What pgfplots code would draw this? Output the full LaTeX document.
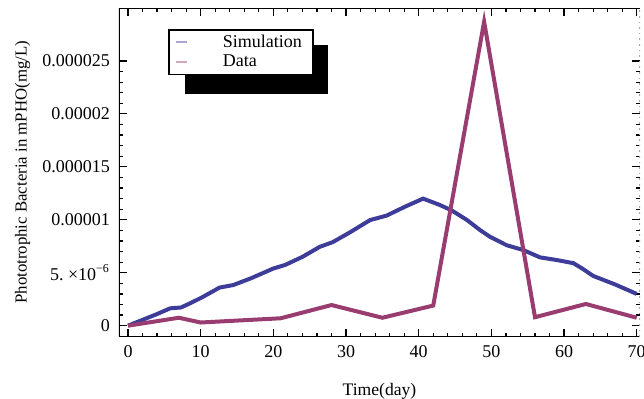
\documentclass[border=0pt]{standalone}
\usepackage{pgfplots}
\pgfplotsset{compat=1.18}
\usepackage{fontspec}
\setmainfont{Liberation Serif}
\definecolor{simblue}{rgb}{0.24,0.24,0.6}
\definecolor{datamag}{rgb}{0.6,0.24,0.442}
\newcommand{\cf}{\fontsize{8.4pt}{10pt}\selectfont}
\newcommand{\tf}{\fontsize{9pt}{10pt}\selectfont}
\pgfplotsset{myleg/.style={legend image code/.code={\draw[##1, line width=1pt, opacity=0.45] (0pt,0pt) -- (5.5pt,0pt); \path[draw=none,fill=none] (0pt,-1pt) rectangle (21pt,1pt);}}}
\begin{document}
\begin{tikzpicture}[font=\cf]
\useasboundingbox (0,0) rectangle (322pt,199pt);
\begin{axis}[
  at={(59.5pt,30.65pt)}, anchor=south west,
  scale only axis, width=260.5pt, height=164.35pt,
  xmin=-1.24, xmax=70.45, ymin=-1.04e-6, ymax=3.0e-5,
  xtick={0,10,...,70}, minor x tick num=4,
  ytick={0,5e-6,1e-5,1.5e-5,2e-5,2.5e-5}, minor y tick num=4,
  yticklabels={0,{5.\ ×10\textsuperscript{−6}},0.00001,0.000015,0.00002,0.000025},
  scaled y ticks=false,
  xtick pos=both, ytick pos=both,
  xticklabel pos=lower, yticklabel pos=left,
  tick align=inside,
  major tick length=3.8pt, minor tick length=2pt,
  every tick/.style={black, line width=0.6pt},
  axis line style={draw=none},
  /pgf/number format/assume math mode=true,
  tick label style={font=\tf},
  xticklabel style={yshift=-1pt},
  yticklabel style={xshift=-1pt},
  xlabel={Time(day)}, ylabel={Phototrophic Bacteria in mPHO(mg/L)},
  every axis x label/.style={at={(axis description cs:0.5,-0.165)}, anchor=center, font=\fontsize{8.8pt}{10pt}\selectfont},
  every axis y label/.style={at={(axis description cs:-0.185,0.5)}, anchor=center, rotate=90, font=\cf},
  legend style={at={(0.094,0.936)}, anchor=north west, draw=black, line width=0.8pt,
    fill=white, font=\tf, inner xsep=3pt, inner ysep=1.2pt,
    nodes={inner ysep=1.2pt, inner xsep=2.6pt}},
  legend cell align=left,
]
\fill[black] (axis description cs:0.1267,0.7384) rectangle (axis description cs:0.4012,0.8874);
\addplot[simblue, line width=2pt, no markers, myleg] coordinates {
(0,0) (2,0.55e-6) (4,1.1e-6) (5.8,1.64e-6) (7.3,1.72e-6) (8.5,2.1e-6)
(10.2,2.68e-6) (12.6,3.6e-6) (14.5,3.84e-6) (17,4.5e-6) (20,5.4e-6)
(21.6,5.73e-6) (24,6.5e-6) (26.4,7.45e-6) (28.2,7.9e-6) (30.5,8.8e-6)
(33.3,9.97e-6) (35.6,10.4e-6) (38,11.2e-6) (40.6,12.0e-6) (42.9,11.4e-6)
(44.5,10.9e-6) (46.6,10.0e-6) (48.5,9.0e-6) (49.8,8.4e-6) (52.1,7.6e-6)
(54.4,7.14e-6) (56.7,6.45e-6) (59,6.2e-6) (61.3,5.9e-6) (62.5,5.4e-6)
(64,4.7e-6) (67,3.9e-6) (70,3.0e-6)
};
\addlegendentry{Simulation}
\addplot[datamag, line width=2pt, no markers, myleg] coordinates {
(0,0) (7,0.75e-6) (10,0.3e-6) (21,0.7e-6) (28,1.95e-6) (35,0.75e-6)
(42,1.9e-6) (49,28.7e-6) (56,0.8e-6) (63,2.05e-6) (70,0.75e-6)
};
\addlegendentry{Data}
\draw[black, line width=1pt] (rel axis cs:1,0) -- (rel axis cs:0,0) -- (rel axis cs:0,1) -- (rel axis cs:1,1);
\draw[black!35, line width=0.8pt, dotted] (rel axis cs:1,0) -- (rel axis cs:1,1);
\end{axis}
\end{tikzpicture}
\end{document}
